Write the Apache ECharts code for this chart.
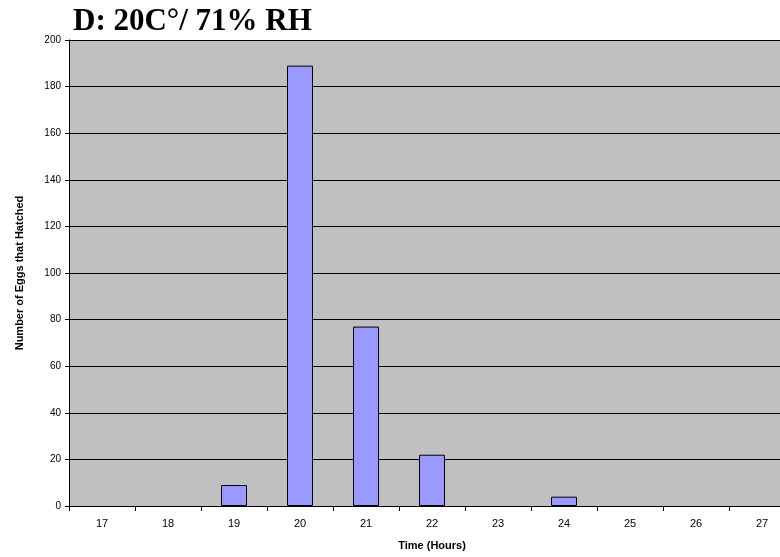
<!DOCTYPE html>
<html>
<head>
<meta charset="utf-8">
<script src="https://cdn.jsdelivr.net/npm/echarts@6/dist/echarts.min.js"></script>
<style>
  html, body { margin: 0; padding: 0; background: #fff; }
  #chart { width: 780px; height: 557px; }
</style>
</head>
<body>
<div id="chart"></div>
<script>
var hours = ['17', '18', '19', '20', '21', '22', '23', '24', '25', '26', '27'];
var hatched = [0, 0, 9, 189, 77, 22, 0, 4, 0, 0, 0];

var myChart = echarts.init(document.getElementById('chart'));
var option = {
  animation: false,
  title: {
    text: 'D: 20C°/ 71% RH',
    left: 68,
    top: 1,
    textStyle: {
      fontFamily: 'Liberation Serif',
      fontWeight: 'bold',
      fontSize: 31,
      color: '#000'
    }
  },
  grid: {
    left: 69,
    top: 40,
    width: 726,
    bottom: 51,
    outerBoundsMode: 'none',
    containLabel: false,
    show: true,
    backgroundColor: '#c0c0c0',
    borderWidth: 0
  },
  xAxis: {
    type: 'category',
    data: hours,
    name: 'Time (Hours)',
    nameLocation: 'middle',
    nameGap: 34,
    nameTextStyle: { fontFamily: 'Liberation Sans', fontWeight: 'bold', fontSize: 11, color: '#000' },
    axisLine: { lineStyle: { color: '#000', width: 1 } },
    axisTick: { show: true, alignWithLabel: false, length: 5, lineStyle: { color: '#000' } },
    axisLabel: { fontFamily: 'Liberation Sans', fontSize: 11, color: '#000', margin: 12 }
  },
  yAxis: {
    type: 'value',
    min: 0,
    max: 200,
    interval: 20,
    name: 'Number of Eggs that Hatched',
    nameLocation: 'middle',
    nameGap: 44,
    nameTextStyle: { fontFamily: 'Liberation Sans', fontWeight: 'bold', fontSize: 11, color: '#000' },
    axisLine: { show: true, lineStyle: { color: '#000', width: 1 } },
    axisTick: { show: true, length: 4, lineStyle: { color: '#000' } },
    axisLabel: { fontFamily: 'Liberation Sans', fontSize: 10, color: '#000', margin: 8 },
    splitLine: { show: true, lineStyle: { color: '#000', width: 1 } }
  },
  series: [
    {
      type: 'bar',
      // empty hours have no bar at all
      data: hatched.map(function (v) { return v === 0 ? '-' : v; }),
      barWidth: 26,
      itemStyle: { color: '#9999ff', borderColor: '#000', borderWidth: 1 }
    }
  ]
};
option && myChart.setOption(option);
</script>
</body>
</html>
